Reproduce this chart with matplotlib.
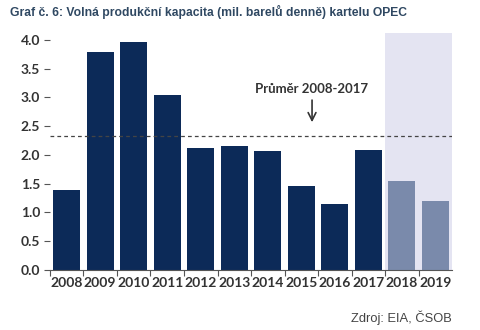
import matplotlib
matplotlib.use("Agg")
import matplotlib.pyplot as plt

# data
years = ["2008", "2009", "2010", "2011", "2012", "2013", "2014", "2015",
         "2016", "2017", "2018", "2019"]
capacity = [1.39, 3.79, 3.97, 3.04, 2.12, 2.16, 2.07, 1.46, 1.15, 2.09, 1.55, 1.20]
forecast = [False] * 10 + [True, True]
average = 2.33

dark = "#0c2a58"
light = "#7a8aab"
shade = "#e4e4f2"
txt = "#333333"

fig = plt.figure(figsize=(4.8, 3.3), dpi=100)
ax = fig.add_axes([0.104, 0.182, 0.838, 0.718])

x = list(range(len(years)))
colors = [light if f else dark for f in forecast]
ax.axvspan(9.5, 11.5, color=shade, zorder=0, lw=0)
ax.bar(x, capacity, width=0.8, color=colors, zorder=2)
ax.axhline(average, color="#444444", lw=0.9, ls=(0, (3, 2.5)), zorder=3)

ax.annotate("Průměr 2008-2017", xy=(7.32, 2.52), xytext=(7.32, 3.05),
            ha="center", va="bottom", fontsize=9.5, fontweight="bold",
            color=txt, family="Lato",
            arrowprops=dict(arrowstyle="->", color="#333333", lw=1.2,
                            mutation_scale=14))

ax.set_xlim(-0.5, 11.5)
ax.set_ylim(0, 4.12)
ax.set_yticks([0, 0.5, 1, 1.5, 2, 2.5, 3, 3.5, 4])
ax.set_yticklabels(["%.1f" % v for v in ax.get_yticks()])
ax.set_xticks(x)
ax.set_xticklabels(years)
ax.set_xticks([i - 0.5 for i in range(len(years))], minor=True)
ax.tick_params(axis="x", which="major", length=0, pad=5)
ax.tick_params(axis="x", which="minor", length=4, color="#555555", width=0.8)
ax.tick_params(axis="y", length=4, color="#555555", width=0.8, pad=3)
for lab in ax.get_xticklabels() + ax.get_yticklabels():
    lab.set_family("Lato")
    lab.set_fontweight("bold")
    lab.set_fontsize(10)
    lab.set_color(txt)

for s in ["top", "right", "left"]:
    ax.spines[s].set_visible(False)
ax.spines["bottom"].set_color("#555555")
ax.spines["bottom"].set_linewidth(0.8)

fig.text(0.021, 0.963, "Graf č. 6: Volná produkční kapacita (mil. barelů denně) kartelu OPEC",
         fontsize=8.7, fontweight="bold", color="#2f4862", family="Liberation Sans",
         va="center", ha="left")
fig.text(0.942, 0.036, "Zdroj: EIA, ČSOB", fontsize=9.3, color="#444444",
         family="Liberation Sans", ha="right", va="center")

fig.savefig("out.png", dpi=100)
